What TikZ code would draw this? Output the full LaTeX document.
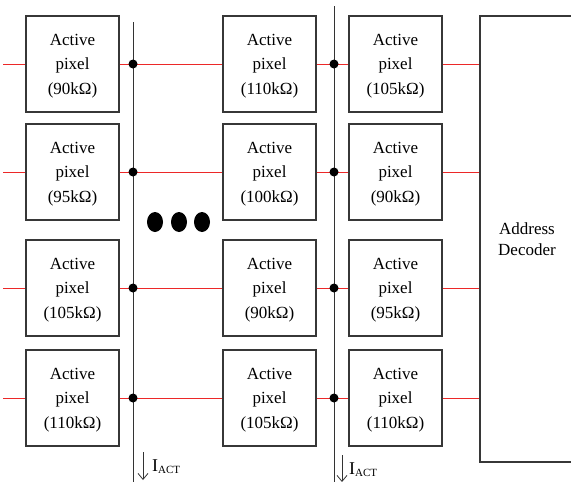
\documentclass[tikz,border=0pt]{standalone}
\usepackage{fontspec}
\setmainfont{Liberation Serif}
\usetikzlibrary{arrows.meta}
\definecolor{wirered}{RGB}{236,40,40}
\definecolor{boxgray}{RGB}{55,55,55}

\begin{document}
\begin{tikzpicture}[x=1pt,y=-1pt,
  pix/.style={draw=boxgray,line width=1.2pt,minimum width=93pt,minimum height=96pt,
    inner sep=0pt,text depth=0pt,align=center,font=\fontsize{17}{24.5}\selectfont},
  wire/.style={draw=wirered,line width=1pt},
  bus/.style={draw=black!80,line width=0.8pt},
  jdot/.style={circle,fill=black,inner sep=0pt,minimum size=9pt},
  iarrow/.style={draw=black!80,line width=0.8pt,-{Straight Barb[length=6pt,width=10pt]}}]
\useasboundingbox (0,0) rectangle (571,482);
\clip (0,0) rectangle (571,482);

% pixel array
\node[pix] (p11) at (72.5,64) {Active\\pixel\\(90kΩ)};
\node[pix] (p12) at (269.5,64) {Active\\pixel\\(110kΩ)};
\node[pix] (p13) at (395.5,64) {Active\\pixel\\(105kΩ)};
\node[pix] (p21) at (72.5,172) {Active\\pixel\\(95kΩ)};
\node[pix] (p22) at (269.5,172) {Active\\pixel\\(100kΩ)};
\node[pix] (p23) at (395.5,172) {Active\\pixel\\(90kΩ)};
\node[pix] (p31) at (72.5,288) {Active\\pixel\\(105kΩ)};
\node[pix] (p32) at (269.5,288) {Active\\pixel\\(90kΩ)};
\node[pix] (p33) at (395.5,288) {Active\\pixel\\(95kΩ)};
\node[pix] (p41) at (72.5,398) {Active\\pixel\\(110kΩ)};
\node[pix] (p42) at (269.5,398) {Active\\pixel\\(105kΩ)};
\node[pix] (p43) at (395.5,398) {Active\\pixel\\(110kΩ)};

% address decoder (runs off the right edge)
\node[draw=boxgray,line width=1.2pt,minimum width=94pt,minimum height=446pt,
  align=center,font=\fontsize{17}{21}\selectfont] (dec) at (527,239) {Address\\Decoder};

% column buses
\coordinate (b1t) at (133,22);
\coordinate (b1b) at (133,482);
\coordinate (b2t) at (334,6);
\coordinate (b2b) at (334,482);
\draw[bus] (b1t) -- (b1b);
\draw[bus] (b2t) -- (b2b);

% row lines
\coordinate (l1) at (3,64);
\coordinate (l2) at (3,172);
\coordinate (l3) at (3,288);
\coordinate (l4) at (3,398);
\draw[wire] (l1) -- (p11.west) (p11.east) -- (p12.west) (p12.east) -- (p13.west) (p13.east) -- (p13.east -| dec.west);
\draw[wire] (l2) -- (p21.west) (p21.east) -- (p22.west) (p22.east) -- (p23.west) (p23.east) -- (p23.east -| dec.west);
\draw[wire] (l3) -- (p31.west) (p31.east) -- (p32.west) (p32.east) -- (p33.west) (p33.east) -- (p33.east -| dec.west);
\draw[wire] (l4) -- (p41.west) (p41.east) -- (p42.west) (p42.east) -- (p43.west) (p43.east) -- (p43.east -| dec.west);

% junctions
\node[jdot] (j11) at (p11.east -| b1t) {};
\node[jdot] (j21) at (p21.east -| b1t) {};
\node[jdot] (j31) at (p31.east -| b1t) {};
\node[jdot] (j41) at (p41.east -| b1t) {};
\node[jdot] (j12) at (p12.east -| b2t) {};
\node[jdot] (j22) at (p22.east -| b2t) {};
\node[jdot] (j32) at (p32.east -| b2t) {};
\node[jdot] (j42) at (p42.east -| b2t) {};

% skipped columns
\fill (155,222) ellipse (8 and 10);
\fill (179,222) ellipse (8 and 10);
\fill (202,222) ellipse (8 and 10);

% column currents
\coordinate (a1s) at (143,452);
\coordinate (a1e) at (143,480);
\coordinate (a2s) at (342,455);
\coordinate (a2e) at (342,482);
\draw[iarrow] (a1s) -- (a1e);
\draw[iarrow] (a2s) -- (a2e);
\node[anchor=west,inner sep=0pt,font=\fontsize{18}{18}\selectfont] (i1) at (152,467)
  {I\raisebox{-2pt}{\fontsize{11}{11}\selectfont ACT}};
\node[anchor=west,inner sep=0pt,font=\fontsize{18}{18}\selectfont] (i2) at (349,470)
  {I\raisebox{-2pt}{\fontsize{11}{11}\selectfont ACT}};
\end{tikzpicture}
\end{document}
